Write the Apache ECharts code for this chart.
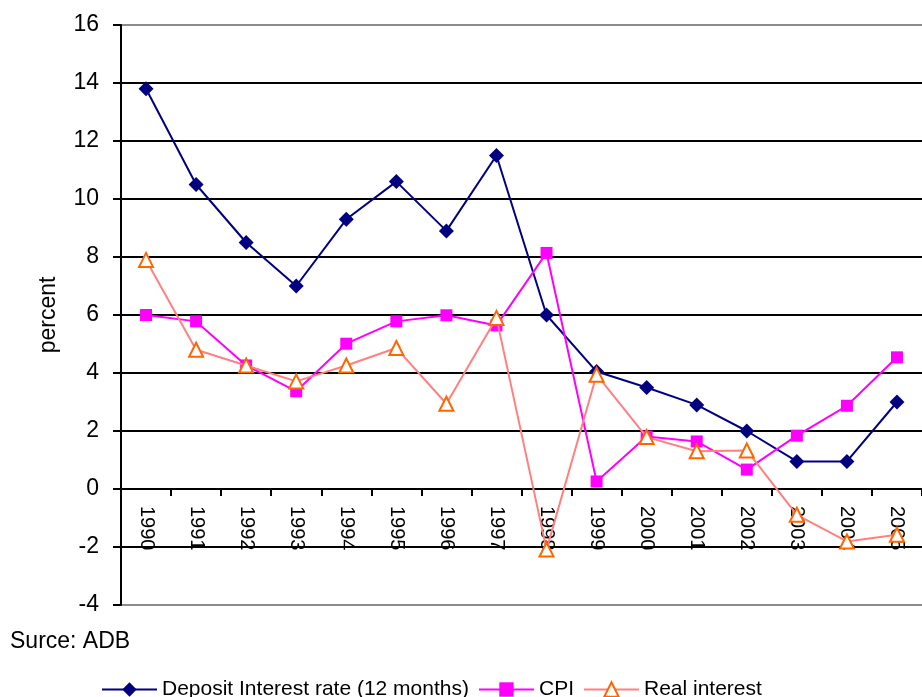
<!DOCTYPE html>
<html>
<head>
<meta charset="utf-8">
<title>Deposit interest, CPI and real interest</title>
<script src="https://cdn.jsdelivr.net/npm/echarts@6/dist/echarts.min.js"></script>
<style>
  html, body { margin: 0; padding: 0; background: #fff; }
  #chart { width: 922px; height: 697px; }
</style>
</head>
<body>
<div id="chart"></div>
<script>
// Years on the category axis
const years = ['1990','1991','1992','1993','1994','1995','1996','1997',
               '1998','1999','2000','2001','2002','2003','2004','2005'];

// Deposit interest rate (12 months), percent
const depositRate = [13.8, 10.5, 8.5, 7.0, 9.3, 10.6, 8.9, 11.5,
                     6.0, 4.05, 3.5, 2.9, 2.0, 0.95, 0.95, 3.0];

// Consumer price inflation, percent
const cpi = [6.0, 5.78, 4.26, 3.37, 5.01, 5.78, 5.99, 5.64,
             8.14, 0.26, 1.81, 1.64, 0.67, 1.84, 2.87, 4.54];

// Real interest rate, percent
const realInterest = [7.9, 4.8, 4.26, 3.71, 4.26, 4.86, 2.94, 5.9,
                      -2.09, 3.94, 1.79, 1.3, 1.33, -0.89, -1.81, -1.58];

// Value axis range and step
const yMin = -4, yMax = 16, yStep = 2;

const font = 'Liberation Sans, Arial, sans-serif';

// Plot box geometry
const gridTop = 25, gridBottom = 92, chartHeight = 697;
const plotHeight = chartHeight - gridTop - gridBottom;
// The category axis sits on the zero line: shift it up from the bottom edge
const zeroOffset = -plotHeight * (0 - yMin) / (yMax - yMin);

// Plot border lines (top and bottom) are grey, inner gridlines black
const gridColors = [];
for (let v = yMin; v <= yMax; v += yStep) {
  gridColors.push(v === yMin || v === yMax ? '#8c8c8c' : '#000000');
}

const chart = echarts.init(document.getElementById('chart'), null, { renderer: 'canvas' });

chart.setOption({
  animation: false,
  backgroundColor: '#ffffff',
  textStyle: { fontFamily: font },
  grid: { left: 121, top: gridTop, right: -6, bottom: gridBottom, containLabel: false },
  xAxis: {
    type: 'category',
    data: years,
    boundaryGap: true,
    offset: zeroOffset,
    axisLine: { onZero: false, lineStyle: { color: '#000', width: 2 } },
    axisTick: { show: true, alignWithLabel: false, length: 7, lineStyle: { color: '#000', width: 2 } },
    axisLabel: {
      rotate: -90,
      margin: 17,
      interval: 0,
      color: '#000',
      fontSize: 20,
      fontFamily: font
    },
    splitLine: { show: false }
  },
  yAxis: {
    type: 'value',
    min: yMin,
    max: yMax,
    interval: yStep,
    name: 'percent',
    nameLocation: 'middle',
    nameRotate: 90,
    nameGap: 61,
    nameTextStyle: { color: '#000', fontSize: 23, fontFamily: font },
    axisLine: { show: true, lineStyle: { color: '#000', width: 2 } },
    axisTick: { show: true, inside: false, length: 8, lineStyle: { color: '#000', width: 2 } },
    axisLabel: { color: '#000', fontSize: 23, margin: 22, fontFamily: font },
    splitLine: { show: true, lineStyle: { color: gridColors, width: 2 } }
  },
  legend: {
    left: 96,
    top: 674,
    itemWidth: 55,
    itemHeight: 18,
    itemGap: 9,
    textStyle: { color: '#000', fontSize: 21, fontFamily: font },
    data: ['Deposit Interest rate (12 months)', 'CPI', 'Real interest']
  },
  graphic: [{
    type: 'text',
    x: 10,
    y: 642,
    style: { text: 'Surce: ADB', font: '23px ' + font, fill: '#000', verticalAlign: 'middle' }
  }],
  series: [
    {
      name: 'Deposit Interest rate (12 months)',
      type: 'line',
      data: depositRate,
      symbol: 'diamond',
      symbolSize: 15,
      lineStyle: { color: '#000080', width: 2 },
      itemStyle: { color: '#000080' },
      z: 3
    },
    {
      name: 'CPI',
      type: 'line',
      data: cpi,
      symbol: 'rect',
      symbolSize: 12,
      lineStyle: { color: '#ff00ff', width: 2 },
      itemStyle: { color: '#ff00ff' },
      z: 4
    },
    {
      name: 'Real interest',
      type: 'line',
      data: realInterest,
      symbol: 'emptyTriangle',
      symbolSize: 14,
      lineStyle: { color: '#ff8080', width: 2 },
      itemStyle: { color: '#ff6600', borderWidth: 2 },
      z: 5
    }
  ]
});
</script>
</body>
</html>
